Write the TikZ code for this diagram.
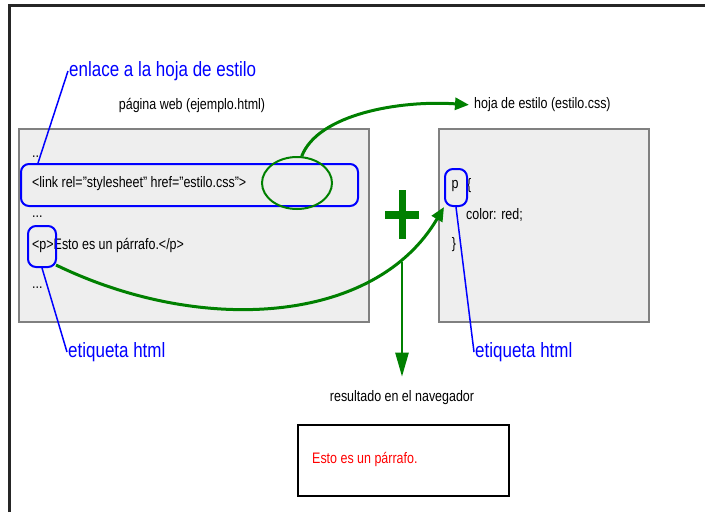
\documentclass[tikz,border=0pt]{standalone}
\usepackage{fontspec}
\setmainfont{Liberation Sans}[FakeStretch=0.82]
\usetikzlibrary{shapes.geometric, arrows.meta}
\definecolor{cssgreen}{RGB}{0,128,0}
\definecolor{noteblue}{RGB}{0,0,255}
\definecolor{boxgray}{RGB}{238,238,238}
\definecolor{navred}{RGB}{255,0,0}
\tikzset{
    codetext/.style={font=\fontsize{15.2}{18}\selectfont, inner sep=2pt},
    notetext/.style={font=\fontsize{20.7}{24}\selectfont, text=noteblue, inner sep=1pt},
    filebox/.style={draw=gray, fill=boxgray, line width=2pt, inner sep=0pt},
    tagbox/.style={draw=noteblue, rounded corners=8pt, line width=2pt, inner sep=0pt},
    noteline/.style={draw=noteblue, line width=1.5pt},
    greenarrow/.style={draw=cssgreen, line width=3pt, -{Triangle[length=14pt,width=12pt]}},
}

\begin{document}
\begin{tikzpicture}[x=1pt,y=-1pt]
            \useasboundingbox (0,0) rectangle (705,512);
            \draw[line width=3pt, black!85] (9,512) -- (9,5) -- (705,5);
            \node[filebox, minimum width=350pt, minimum height=193pt, anchor=north west] (webpage) at (18,128) {};
            \node[filebox, minimum width=210pt, minimum height=193pt, anchor=north west] (cssfile) at (438,128) {};
            \node[codetext] (pagtitle) at (192,105) {página web (ejemplo.html)};
            \node[codetext, anchor=west] (hojatitle) at (472,105) {hoja de estilo (estilo.css)};
            \node[notetext, anchor=west] (enlace) at (68,71) {enlace a la hoja de estilo};
            \node[codetext, anchor=west] (dotsa) at (30,157) {..};
            \node[codetext, anchor=west] (linktxt) at (30,184) {<link rel="stylesheet" href="estilo.css">};
            \node[codetext, anchor=west] (dotsb) at (30,217) {...};
            \node[codetext, anchor=west] (ptxt) at (30,245) {<p>Esto es un párrafo.</p>};
            \node[codetext, anchor=west] (dotsc) at (30,288) {...};
            \node[tagbox, minimum width=337pt, minimum height=42pt, anchor=north west] (linkbox) at (20,163) {};
            \node[tagbox, minimum width=28pt, minimum height=41pt, anchor=north west] (ptagbox) at (27,225) {};
            \node[draw=cssgreen, ellipse, line width=2pt, minimum width=70pt, minimum height=52pt] (cssref) at (297,183) {};
            \node[codetext] (psel) at (455,186) {p};
            \node[codetext, anchor=west] (popen) at (465,186) {\{};
            \node[codetext, anchor=west] (pcolor) at (464,215) {color: red;};
            \node[codetext] (pclose) at (454,245) {\}};
            \node[tagbox, minimum width=22pt, minimum height=37pt, anchor=north west] (pselbox) at (444,168) {};
            \node[notetext, anchor=west] (etiqa) at (67,352) {etiqueta html};
            \node[notetext, anchor=west] (etiqb) at (474,352) {etiqueta html};
            \draw[noteline] (enlace.west) -- ([xshift=18pt]linkbox.north west);
            \draw[noteline] (ptagbox.south) -- (etiqa.west);
            \draw[noteline] (pselbox.south) -- (etiqb.west);
            \draw[greenarrow, shorten >=3pt] (cssref.80) .. controls (318,114) and (400,100) .. (hojatitle.west);
            \draw[greenarrow] ([xshift=-1pt,yshift=3pt]ptagbox.south east) .. controls (200,335) and (375,325) .. (pselbox.south west);
            \draw[cssgreen, line width=7pt] (402,190) -- (402,239);
            \draw[cssgreen, line width=8pt] (385,215) -- (419,215);
            \node[codetext] (navtitle) at (402,398) {resultado en el navegador};
            \coordinate (plusfoot) at (402,262);
            \draw[draw=cssgreen, line width=2.5pt, -{Triangle[length=24pt,width=13pt]}, shorten >=12pt] (plusfoot) -- (navtitle.north);
            \node[draw=black, line width=2pt, minimum width=211pt, minimum height=71pt, inner sep=0pt, anchor=north west] (navbox) at (297,424) {};
            \node[codetext, anchor=west, text=navred] (navtext) at (310,459) {Esto es un párrafo.};
\end{tikzpicture}
\end{document}
